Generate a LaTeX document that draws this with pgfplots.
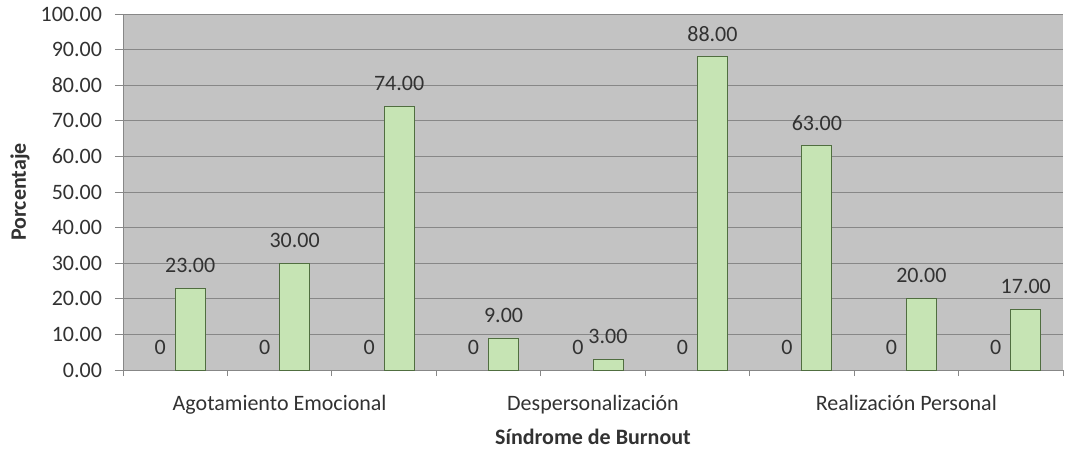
\documentclass[border=0pt]{standalone}
\usepackage{pgfplots}
\pgfplotsset{compat=1.18}
\usepackage{fontspec}
\setmainfont{Carlito}
\definecolor{bggray}{RGB}{195,195,195}
\definecolor{gridgray}{RGB}{135,135,135}
\definecolor{barfill}{RGB}{198,228,180}
\definecolor{bardraw}{RGB}{80,110,64}
\definecolor{txt}{RGB}{50,50,50}
\begin{document}
\begin{tikzpicture}
\useasboundingbox (-61.5pt,-40pt) rectangle (476.5pt,185pt);
\begin{axis}[
  at={(0,0)}, anchor=south west,
  scale only axis, width=470pt, height=178pt,
  font=\fontsize{11}{13}\selectfont, 
  every tick label/.append style={text=txt},
  axis background/.style={fill=bggray},
  ybar=0pt, bar width=15pt,
  xmin=0.5, xmax=9.5, ymin=0, ymax=100,
  ytick={0,10,...,100},
  yticklabel style={/pgf/number format/.cd,fixed,fixed zerofill,precision=2,/tikz/.cd, xshift=-3pt},
  /pgf/number format/assume math mode=true,
  xtick={2,5,8},
  xticklabels={Agotamiento Emocional,Despersonalización,Realización Personal},
  minor xtick={0.5,1.5,...,9.5},
  xtick style={draw=none},
  minor x tick style={draw=gridgray, thin},
  minor tick length=3pt,
  ytick style={draw=gridgray, thin},
  major tick length=4pt,
  tick align=outside,
  xticklabel style={anchor=base, yshift=-16pt},
  ymajorgrids, grid style={gridgray, thin},
  axis x line*=bottom, axis y line*=left,
  axis line style={gridgray, thin, -},
  xlabel={\textbf{Síndrome de Burnout}},
  ylabel={\textbf{Porcentaje}},
  xlabel style={at={([yshift=-33.5pt]axis description cs:0.5,0)}, anchor=center, text=txt},
  ylabel style={at={([xshift=-51.5pt]axis description cs:0,0.5)}, anchor=center, text=txt},
  nodes near coords,
  every node near coord/.append style={anchor=center, yshift=11.5pt, text=txt, font=\fontsize{11}{13}\selectfont},
  clip=false,
]
\addplot[fill=none, draw=none, nodes near coords={\pgfmathprintnumber{\pgfplotspointmeta}}] coordinates {
  (1,0) (2,0) (3,0) (4,0) (5,0) (6,0) (7,0) (8,0) (9,0)};
\addplot[fill=barfill, draw=bardraw, 
  nodes near coords={\pgfmathprintnumber[fixed,fixed zerofill,precision=2]{\pgfplotspointmeta}}] coordinates {
  (1,23) (2,30) (3,74) (4,9) (5,3) (6,88) (7,63) (8,20) (9,17)};
\end{axis}
\end{tikzpicture}
\end{document}
